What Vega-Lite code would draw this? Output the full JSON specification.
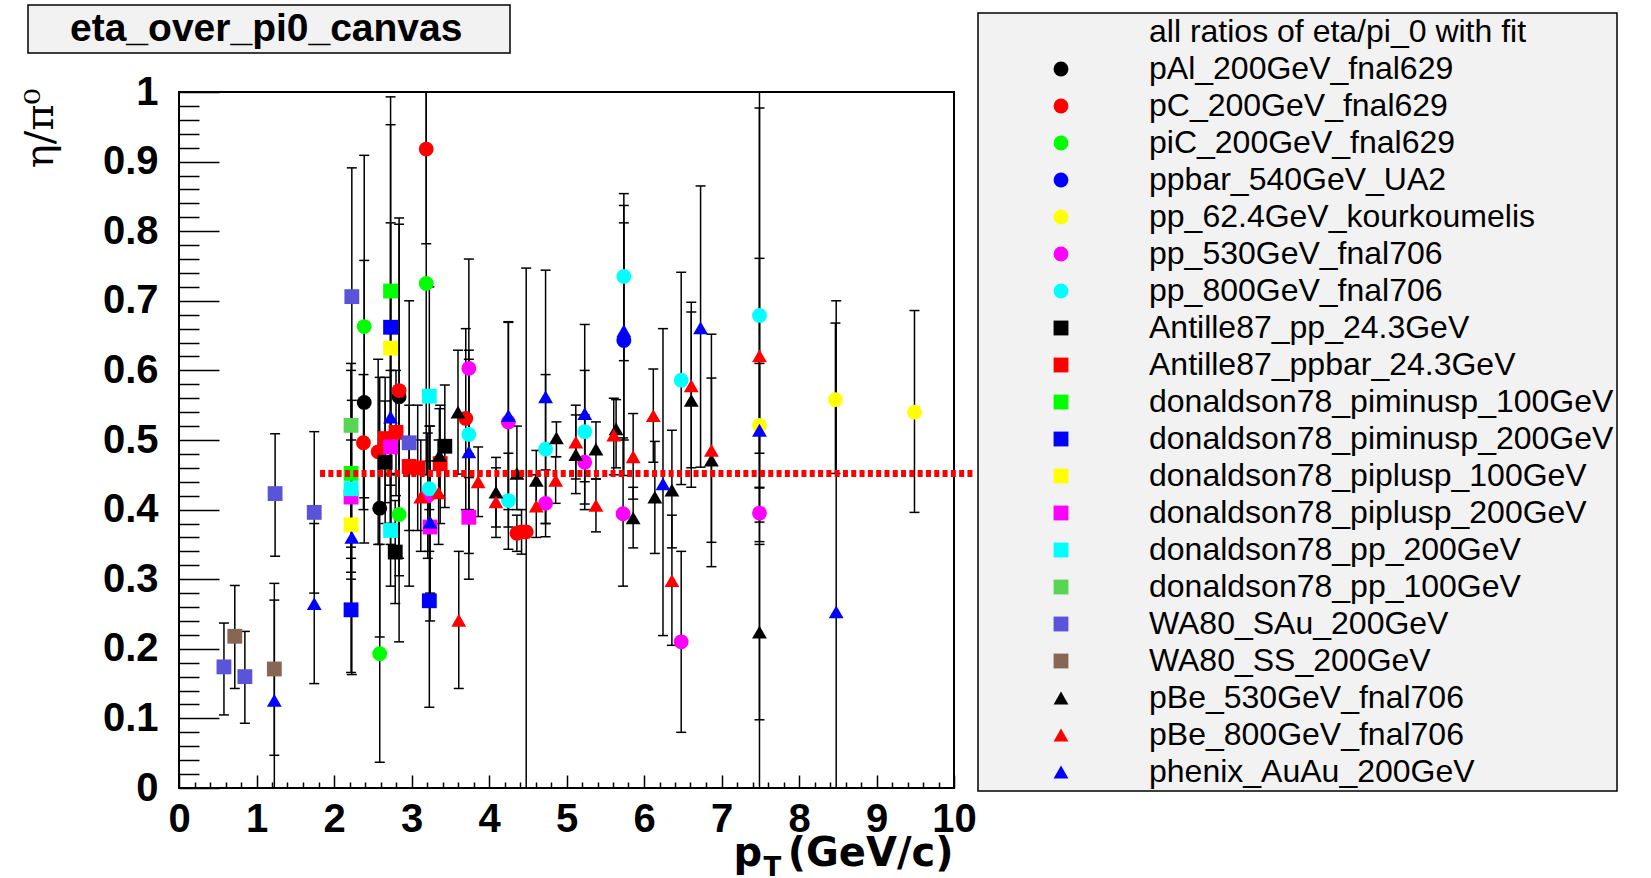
{
"$schema": "https://vega.github.io/schema/vega-lite/v6.json",
"width": 775, "height": 696,
"autosize": {"type": "none"},
"padding": {"left": 179, "top": 92, "right": 697, "bottom": 90},
"background": "white",
"config": {
  "view": {"stroke": "black", "strokeWidth": 2, "fill": "white"},
  "font": "Liberation Sans",
  "axis": {"grid": false, "domain": false, "tickColor": "black", "tickWidth": 1.5, "labelColor": "black", "titleColor": "black", "labelFlush": false, "labelOverlap": false},
  "legend": {"strokeWidth": 1.5}
},
"datasets": {
"pts": [
{"s":"pAl_200GeV_fnal629","x":2.39,"y":0.554,"lo":0.352,"hi":0.758},
{"s":"pAl_200GeV_fnal629","x":2.59,"y":0.402,"lo":0.217,"hi":0.590},
{"s":"pAl_200GeV_fnal629","x":2.84,"y":0.562,"lo":0.305,"hi":0.819},
{"s":"pC_200GeV_fnal629","x":2.38,"y":0.496,"lo":0.400,"hi":0.594},
{"s":"pC_200GeV_fnal629","x":2.57,"y":0.483,"lo":0.350,"hi":0.616},
{"s":"pC_200GeV_fnal629","x":2.84,"y":0.571,"lo":0.330,"hi":0.810},
{"s":"pC_200GeV_fnal629","x":3.19,"y":0.918,"lo":0.782,"hi":1.054},
{"s":"pC_200GeV_fnal629","x":3.70,"y":0.531,"lo":0.400,"hi":0.660},
{"s":"pC_200GeV_fnal629","x":4.36,"y":0.366,"lo":0.340,"hi":0.392},
{"s":"pC_200GeV_fnal629","x":4.42,"y":0.368,"lo":0.336,"hi":0.400},
{"s":"pC_200GeV_fnal629","x":4.48,"y":0.368,"lo":-0.05,"hi":0.747},
{"s":"piC_200GeV_fnal629","x":2.39,"y":0.663,"lo":0.417,"hi":0.909},
{"s":"piC_200GeV_fnal629","x":3.19,"y":0.725,"lo":0.450,"hi":1.05},
{"s":"piC_200GeV_fnal629","x":2.84,"y":0.393,"lo":0.210,"hi":0.576},
{"s":"piC_200GeV_fnal629","x":2.59,"y":0.193,"lo":0.037,"hi":0.350},
{"s":"ppbar_540GeV_UA2","x":5.74,"y":0.643,"lo":0.449,"hi":0.837},
{"s":"pp_62.4GeV_kourkoumelis","x":7.49,"y":0.521,"lo":0.432,"hi":0.610},
{"s":"pp_62.4GeV_kourkoumelis","x":8.47,"y":0.558,"lo":0.452,"hi":0.668},
{"s":"pp_62.4GeV_kourkoumelis","x":9.49,"y":0.540,"lo":0.396,"hi":0.686},
{"s":"pp_530GeV_fnal706","x":3.21,"y":0.420,"lo":0.330,"hi":0.510},
{"s":"pp_530GeV_fnal706","x":3.74,"y":0.603,"lo":0.446,"hi":0.760},
{"s":"pp_530GeV_fnal706","x":4.25,"y":0.526,"lo":0.375,"hi":0.670},
{"s":"pp_530GeV_fnal706","x":4.73,"y":0.409,"lo":0.361,"hi":0.457},
{"s":"pp_530GeV_fnal706","x":5.235,"y":0.468,"lo":0.400,"hi":0.536},
{"s":"pp_530GeV_fnal706","x":5.73,"y":0.394,"lo":0.290,"hi":0.503},
{"s":"pp_530GeV_fnal706","x":6.48,"y":0.210,"lo":0.080,"hi":0.340},
{"s":"pp_530GeV_fnal706","x":7.49,"y":0.395,"lo":0.354,"hi":0.431},
{"s":"pp_800GeV_fnal706","x":3.23,"y":0.430,"lo":0.340,"hi":0.520},
{"s":"pp_800GeV_fnal706","x":3.74,"y":0.508,"lo":0.400,"hi":0.616},
{"s":"pp_800GeV_fnal706","x":4.25,"y":0.413,"lo":0.343,"hi":0.481},
{"s":"pp_800GeV_fnal706","x":4.73,"y":0.487,"lo":0.380,"hi":0.594},
{"s":"pp_800GeV_fnal706","x":5.235,"y":0.512,"lo":0.440,"hi":0.600},
{"s":"pp_800GeV_fnal706","x":5.74,"y":0.735,"lo":0.614,"hi":0.854},
{"s":"pp_800GeV_fnal706","x":6.48,"y":0.586,"lo":0.436,"hi":0.741},
{"s":"pp_800GeV_fnal706","x":7.49,"y":0.679,"lo":0.382,"hi":0.977},
{"s":"Antille87_pp_24.3GeV","x":2.66,"y":0.468,"lo":0.380,"hi":0.556},
{"s":"Antille87_pp_24.3GeV","x":2.79,"y":0.339,"lo":0.265,"hi":0.413},
{"s":"Antille87_pp_24.3GeV","x":3.43,"y":0.491,"lo":0.403,"hi":0.579},
{"s":"Antille87_ppbar_24.3GeV","x":2.66,"y":0.502,"lo":0.410,"hi":0.590},
{"s":"Antille87_ppbar_24.3GeV","x":2.80,"y":0.511,"lo":0.420,"hi":0.600},
{"s":"Antille87_ppbar_24.3GeV","x":2.97,"y":0.462,"lo":0.370,"hi":0.550},
{"s":"Antille87_ppbar_24.3GeV","x":3.08,"y":0.460,"lo":0.370,"hi":0.550},
{"s":"Antille87_ppbar_24.3GeV","x":3.37,"y":0.466,"lo":0.380,"hi":0.550},
{"s":"donaldson78_piminusp_100GeV","x":2.73,"y":0.714,"lo":0.435,"hi":0.993},
{"s":"donaldson78_piminusp_100GeV","x":2.22,"y":0.452,"lo":0.300,"hi":0.600},
{"s":"donaldson78_piminusp_200GeV","x":2.73,"y":0.662,"lo":0.372,"hi":0.953},
{"s":"donaldson78_piminusp_200GeV","x":2.22,"y":0.256,"lo":0.166,"hi":0.346},
{"s":"donaldson78_piminusp_200GeV","x":3.23,"y":0.269,"lo":0.116,"hi":0.420},
{"s":"donaldson78_piplusp_100GeV","x":2.73,"y":0.632,"lo":0.452,"hi":0.812},
{"s":"donaldson78_piplusp_100GeV","x":2.22,"y":0.378,"lo":0.260,"hi":0.500},
{"s":"donaldson78_piplusp_200GeV","x":2.73,"y":0.490,"lo":0.380,"hi":0.600},
{"s":"donaldson78_piplusp_200GeV","x":2.22,"y":0.418,"lo":0.310,"hi":0.530},
{"s":"donaldson78_piplusp_200GeV","x":3.74,"y":0.389,"lo":0.300,"hi":0.480},
{"s":"donaldson78_piplusp_200GeV","x":3.24,"y":0.375,"lo":0.280,"hi":0.470},
{"s":"donaldson78_pp_200GeV","x":2.22,"y":0.430,"lo":0.330,"hi":0.530},
{"s":"donaldson78_pp_200GeV","x":2.73,"y":0.370,"lo":0.290,"hi":0.450},
{"s":"donaldson78_pp_200GeV","x":3.23,"y":0.563,"lo":0.400,"hi":0.720},
{"s":"donaldson78_pp_100GeV","x":2.22,"y":0.521,"lo":0.430,"hi":0.610},
{"s":"WA80_SAu_200GeV","x":0.58,"y":0.174,"lo":0.105,"hi":0.237},
{"s":"WA80_SAu_200GeV","x":0.85,"y":0.160,"lo":0.093,"hi":0.225},
{"s":"WA80_SAu_200GeV","x":1.24,"y":0.423,"lo":0.333,"hi":0.509},
{"s":"WA80_SAu_200GeV","x":1.745,"y":0.396,"lo":0.280,"hi":0.512},
{"s":"WA80_SAu_200GeV","x":2.23,"y":0.706,"lo":0.521,"hi":0.891},
{"s":"WA80_SAu_200GeV","x":2.97,"y":0.496,"lo":0.290,"hi":0.700},
{"s":"WA80_SS_200GeV","x":0.72,"y":0.218,"lo":0.143,"hi":0.291},
{"s":"WA80_SS_200GeV","x":1.23,"y":0.171,"lo":0.047,"hi":0.294},
{"s":"pBe_530GeV_fnal706","x":3.36,"y":0.478,"lo":0.420,"hi":0.545},
{"s":"pBe_530GeV_fnal706","x":3.60,"y":0.540,"lo":0.451,"hi":0.629},
{"s":"pBe_530GeV_fnal706","x":4.09,"y":0.425,"lo":0.375,"hi":0.475},
{"s":"pBe_530GeV_fnal706","x":4.36,"y":0.452,"lo":0.400,"hi":0.520},
{"s":"pBe_530GeV_fnal706","x":4.61,"y":0.442,"lo":0.400,"hi":0.485},
{"s":"pBe_530GeV_fnal706","x":4.87,"y":0.503,"lo":0.476,"hi":0.526},
{"s":"pBe_530GeV_fnal706","x":5.12,"y":0.479,"lo":0.423,"hi":0.536},
{"s":"pBe_530GeV_fnal706","x":5.38,"y":0.487,"lo":0.444,"hi":0.526},
{"s":"pBe_530GeV_fnal706","x":5.64,"y":0.516,"lo":0.460,"hi":0.558},
{"s":"pBe_530GeV_fnal706","x":5.86,"y":0.388,"lo":0.345,"hi":0.432},
{"s":"pBe_530GeV_fnal706","x":6.14,"y":0.418,"lo":0.337,"hi":0.498},
{"s":"pBe_530GeV_fnal706","x":6.36,"y":0.428,"lo":0.345,"hi":0.514},
{"s":"pBe_530GeV_fnal706","x":6.61,"y":0.557,"lo":0.432,"hi":0.684},
{"s":"pBe_530GeV_fnal706","x":6.87,"y":0.471,"lo":0.353,"hi":0.589},
{"s":"pBe_530GeV_fnal706","x":7.49,"y":0.224,"lo":0.098,"hi":0.350},
{"s":"pBe_800GeV_fnal706","x":3.12,"y":0.418,"lo":0.340,"hi":0.500},
{"s":"pBe_800GeV_fnal706","x":3.35,"y":0.424,"lo":0.350,"hi":0.500},
{"s":"pBe_800GeV_fnal706","x":3.61,"y":0.241,"lo":0.143,"hi":0.340},
{"s":"pBe_800GeV_fnal706","x":3.86,"y":0.440,"lo":0.390,"hi":0.490},
{"s":"pBe_800GeV_fnal706","x":4.09,"y":0.411,"lo":0.360,"hi":0.460},
{"s":"pBe_800GeV_fnal706","x":4.61,"y":0.405,"lo":0.360,"hi":0.450},
{"s":"pBe_800GeV_fnal706","x":4.86,"y":0.442,"lo":0.409,"hi":0.476},
{"s":"pBe_800GeV_fnal706","x":5.12,"y":0.497,"lo":0.444,"hi":0.550},
{"s":"pBe_800GeV_fnal706","x":5.38,"y":0.406,"lo":0.368,"hi":0.444},
{"s":"pBe_800GeV_fnal706","x":5.61,"y":0.507,"lo":0.450,"hi":0.560},
{"s":"pBe_800GeV_fnal706","x":5.86,"y":0.476,"lo":0.415,"hi":0.538},
{"s":"pBe_800GeV_fnal706","x":6.12,"y":0.535,"lo":0.468,"hi":0.602},
{"s":"pBe_800GeV_fnal706","x":6.36,"y":0.298,"lo":0.205,"hi":0.392},
{"s":"pBe_800GeV_fnal706","x":6.61,"y":0.578,"lo":0.460,"hi":0.698},
{"s":"pBe_800GeV_fnal706","x":6.87,"y":0.485,"lo":0.318,"hi":0.652},
{"s":"pBe_800GeV_fnal706","x":7.49,"y":0.621,"lo":0.481,"hi":0.761},
{"s":"phenix_AuAu_200GeV","x":1.23,"y":0.126,"lo":-0.02,"hi":0.270},
{"s":"phenix_AuAu_200GeV","x":1.745,"y":0.265,"lo":0.150,"hi":0.380},
{"s":"phenix_AuAu_200GeV","x":2.23,"y":0.360,"lo":0.163,"hi":0.557},
{"s":"phenix_AuAu_200GeV","x":2.73,"y":0.533,"lo":0.350,"hi":0.716},
{"s":"phenix_AuAu_200GeV","x":3.24,"y":0.382,"lo":0.240,"hi":0.520},
{"s":"phenix_AuAu_200GeV","x":3.74,"y":0.483,"lo":0.337,"hi":0.629},
{"s":"phenix_AuAu_200GeV","x":4.25,"y":0.535,"lo":0.400,"hi":0.669},
{"s":"phenix_AuAu_200GeV","x":4.73,"y":0.562,"lo":0.380,"hi":0.744},
{"s":"phenix_AuAu_200GeV","x":5.235,"y":0.538,"lo":0.408,"hi":0.666},
{"s":"phenix_AuAu_200GeV","x":5.74,"y":0.657,"lo":0.500,"hi":0.812},
{"s":"phenix_AuAu_200GeV","x":6.245,"y":0.437,"lo":0.219,"hi":0.660},
{"s":"phenix_AuAu_200GeV","x":6.73,"y":0.661,"lo":0.461,"hi":0.865},
{"s":"phenix_AuAu_200GeV","x":7.49,"y":0.514,"lo":-0.1,"hi":1.1},
{"s":"phenix_AuAu_200GeV","x":8.48,"y":0.253,"lo":-0.2,"hi":0.700}
],
"fit": [{"x1": 1.82, "x2": 10.24, "y": 0.452}]
},
"resolve": {"axis": {"x": "independent", "y": "independent"}},
"layer": [
{
  "data": {"name": "pts"},
  "mark": {"type": "rule", "color": "black", "strokeWidth": 1.5, "clip": true},
  "encoding": {
    "x": {"field": "x", "type": "quantitative", "scale": {"domain": [0, 10], "nice": false, "zero": false},
      "axis": {"orient": "bottom", "values": [0,1,2,3,4,5,6,7,8,9,10], "format": "d", "ticks": false, "labelFont": "Liberation Sans", "labelFontSize": 40, "labelFontWeight": "bold", "labelPadding": 11,
        "title": "p", "titleX": 554, "titleY": 77, "titleAlign": "left", "titleBaseline": "alphabetic", "titleFont": "DejaVu Sans", "titleFontSize": 40, "titleFontWeight": "bold"}},
    "y": {"field": "lo", "type": "quantitative", "scale": {"domain": [0, 1], "nice": false, "zero": false},
      "axis": {"orient": "left", "values": [0,0.1,0.2,0.3,0.4,0.5,0.6,0.7,0.8,0.9,1], "format": "~g", "ticks": false, "labelFont": "Liberation Sans", "labelFontSize": 40, "labelFontWeight": "bold", "labelPadding": 21,
        "title": "η/π⁰", "titleAngle": -90, "titleX": -139, "titleY": -4, "titleAlign": "right", "titleBaseline": "middle", "titleFont": "DejaVu Serif", "titleFontSize": 40, "titleFontWeight": "normal"}},
    "y2": {"field": "hi"},
    "opacity": {"datum": "eta_over_pi0_canvas", "type": "ordinal", "scale": {"type": "ordinal", "domain": ["eta_over_pi0_canvas"], "range": [1]},
      "legend": {"title": null, "orient": "none", "legendX": -152, "legendY": -305, "padding": 0,
        "labelFont": "Liberation Sans", "labelFontSize": 39, "labelFontWeight": "bold", "labelColor": "black", "labelLimit": 800, "labelOffset": -441, "symbolOffset": 0,
        "symbolType": "M-1,-0.1H1V0.1H-1Z", "symbolSize": 232324, "symbolStrokeColor": "black", "symbolFillColor": "#f2f2f2", "symbolStrokeWidth": 1.5,
        "encoding": {"symbols": {"shape": {"value": "M-1,-0.1H1V0.1H-1Z"}, "size": {"value": 232324}, "fill": {"value": "#f2f2f2"}, "stroke": {"value": "black"}, "strokeWidth": {"value": 1.5}, "opacity": {"value": 1}}}}}
  }
},
{
  "data": {"name": "pts"},
  "transform": [{"fold": ["lo", "hi"], "as": ["end", "val"]}],
  "mark": {"type": "tick", "orient": "horizontal", "color": "black", "size": 10, "thickness": 1.5, "opacity": 1, "clip": true},
  "encoding": {
    "x": {"field": "x", "type": "quantitative", "scale": {"domain": [0, 10], "nice": false, "zero": false},
      "axis": {"orient": "bottom", "values": [0,1,2,3,4,5,6,7,8,9,10], "labels": false, "tickSize": -13,
        "title": "T", "titleX": 584, "titleY": 87, "titleAlign": "left", "titleBaseline": "alphabetic", "titleFont": "DejaVu Sans", "titleFontSize": 26, "titleFontWeight": "bold"}},
    "y": {"field": "val", "type": "quantitative", "scale": {"domain": [0, 1], "nice": false, "zero": false},
      "axis": {"orient": "left", "values": [0,0.1,0.2,0.3,0.4,0.5,0.6,0.7,0.8,0.9,1], "labels": false, "tickSize": -40, "title": null}}
  }
},
{
  "data": {"name": "pts"},
  "mark": {"type": "point", "filled": true, "opacity": 1, "strokeWidth": 0, "clip": true},
  "encoding": {
    "x": {"field": "x", "type": "quantitative", "scale": {"domain": [0, 10], "nice": false, "zero": false},
      "axis": {"orient": "bottom", "values": [0.2,0.4,0.6,0.8,1.2,1.4,1.6,1.8,2.2,2.4,2.6,2.8,3.2,3.4,3.6,3.8,4.2,4.4,4.6,4.8,5.2,5.4,5.6,5.8,6.2,6.4,6.6,6.8,7.2,7.4,7.6,7.8,8.2,8.4,8.6,8.8,9.2,9.4,9.6,9.8], "labels": false, "tickSize": -6,
        "title": "(GeV/c)", "titleX": 774, "titleY": 77, "titleAlign": "right", "titleBaseline": "alphabetic", "titleFont": "DejaVu Sans", "titleFontSize": 40, "titleFontWeight": "bold"}},
    "y": {"field": "y", "type": "quantitative", "scale": {"domain": [0, 1], "nice": false, "zero": false},
      "axis": {"orient": "left", "values": [0.02,0.04,0.06,0.08,0.12,0.14,0.16,0.18,0.22,0.24,0.26,0.28,0.32,0.34,0.36,0.38,0.42,0.44,0.46,0.48,0.52,0.54,0.56,0.58,0.62,0.64,0.66,0.68,0.72,0.74,0.76,0.78,0.82,0.84,0.86,0.88,0.92,0.94,0.96,0.98], "labels": false, "tickSize": -20, "title": null}},
    "color": {"field": "s", "type": "nominal",
      "scale": {"domain": ["all ratios of eta/pi_0 with fit","pAl_200GeV_fnal629","pC_200GeV_fnal629","piC_200GeV_fnal629","ppbar_540GeV_UA2","pp_62.4GeV_kourkoumelis","pp_530GeV_fnal706","pp_800GeV_fnal706","Antille87_pp_24.3GeV","Antille87_ppbar_24.3GeV","donaldson78_piminusp_100GeV","donaldson78_piminusp_200GeV","donaldson78_piplusp_100GeV","donaldson78_piplusp_200GeV","donaldson78_pp_200GeV","donaldson78_pp_100GeV","WA80_SAu_200GeV","WA80_SS_200GeV","pBe_530GeV_fnal706","pBe_800GeV_fnal706","phenix_AuAu_200GeV"],
        "range": ["transparent","#000000","#ff0000","#00ff00","#0000ff","#ffff00","#ff00ff","#00ffff","#000000","#ff0000","#00ff00","#0000ff","#ffff00","#ff00ff","#00ffff","#59d454","#5954d9","#876656","#000000","#ff0000","#0000ff"]},
      "legend": {"title": null, "orient": "none", "legendX": 799, "legendY": -79, "padding": 3, "fillColor": "#f2f2f2", "strokeColor": "black", "labelFont": "Liberation Sans", "labelFontSize": 32, "labelColor": "black", "labelLimit": 800, "labelOffset": 72, "symbolOffset": 64, "symbolSize": 130, "symbolStrokeWidth": 0, "symbolOpacity": 1, "rowPadding": 5}},
    "shape": {"field": "s", "type": "nominal",
      "scale": {"domain": ["all ratios of eta/pi_0 with fit","pAl_200GeV_fnal629","pC_200GeV_fnal629","piC_200GeV_fnal629","ppbar_540GeV_UA2","pp_62.4GeV_kourkoumelis","pp_530GeV_fnal706","pp_800GeV_fnal706","Antille87_pp_24.3GeV","Antille87_ppbar_24.3GeV","donaldson78_piminusp_100GeV","donaldson78_piminusp_200GeV","donaldson78_piplusp_100GeV","donaldson78_piplusp_200GeV","donaldson78_pp_200GeV","donaldson78_pp_100GeV","WA80_SAu_200GeV","WA80_SS_200GeV","pBe_530GeV_fnal706","pBe_800GeV_fnal706","phenix_AuAu_200GeV"],
        "range": ["circle","circle","circle","circle","circle","circle","circle","circle","square","square","square","square","square","square","square","square","square","square","triangle-up","triangle-up","triangle-up"]},
      "legend": {"title": null, "orient": "none", "legendX": 799, "legendY": -79, "padding": 3, "fillColor": "#f2f2f2", "strokeColor": "black", "labelFont": "Liberation Sans", "labelFontSize": 32, "labelColor": "black", "labelLimit": 800, "labelOffset": 72, "symbolOffset": 64, "symbolSize": 130, "symbolStrokeWidth": 0, "symbolOpacity": 1, "rowPadding": 5}},
    "size": {"field": "s", "type": "ordinal", "legend": null,
      "scale": {"domain": ["all ratios of eta/pi_0 with fit","pAl_200GeV_fnal629","pC_200GeV_fnal629","piC_200GeV_fnal629","ppbar_540GeV_UA2","pp_62.4GeV_kourkoumelis","pp_530GeV_fnal706","pp_800GeV_fnal706","Antille87_pp_24.3GeV","Antille87_ppbar_24.3GeV","donaldson78_piminusp_100GeV","donaldson78_piminusp_200GeV","donaldson78_piplusp_100GeV","donaldson78_piplusp_200GeV","donaldson78_pp_200GeV","donaldson78_pp_100GeV","WA80_SAu_200GeV","WA80_SS_200GeV","pBe_530GeV_fnal706","pBe_800GeV_fnal706","phenix_AuAu_200GeV"],
        "range": [220,220,220,220,220,220,220,220,300,300,300,300,300,300,300,300,300,300,230,230,230]}}
  }
},
{
  "data": {"name": "fit"},
  "mark": {"type": "rule", "color": "#ff0000", "strokeWidth": 7, "strokeCap": "butt", "strokeDash": [5, 3.3]},
  "encoding": {
    "x": {"field": "x1", "type": "quantitative", "scale": {"domain": [0, 10], "nice": false, "zero": false}, "axis": null},
    "x2": {"field": "x2"},
    "y": {"field": "y", "type": "quantitative", "scale": {"domain": [0, 1], "nice": false, "zero": false}, "axis": null}
  }
}
]
}
